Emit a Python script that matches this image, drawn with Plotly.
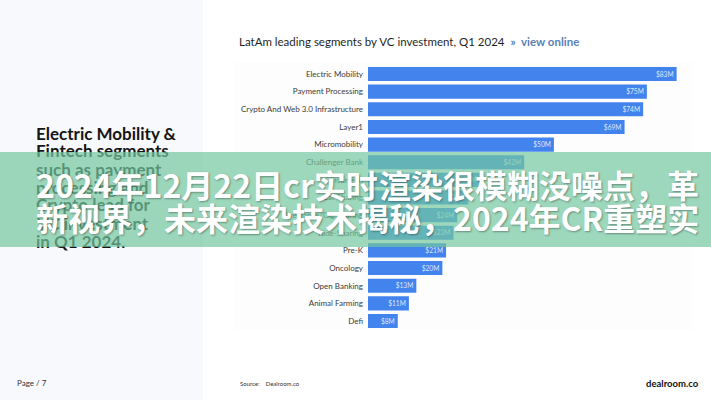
import plotly.graph_objects as go

W, H = 711, 400

segments = [
    "Electric Mobility", "Payment Processing", "Crypto And Web 3.0 Infrastructure",
    "Layer1", "Micromobility", "Challenger Bank", "Insurtech", "Car Sharing",
    "Freelance/Gig Sharing", "Ride-Sharing", "Pre-K", "Oncology", "Open Banking",
    "Animal Farming", "Defi",
]
investment_musd = [83, 75, 74, 69, 50, 42, 30, 27, 24, 23, 21, 20, 13, 11, 8]

chart_title = "LatAm leading segments by VC investment, Q1 2024"
link_text = "»  view online"
left_lines = ["Electric Mobility &", "Fintech segments", "such as payment",
              "processing and", "Crypto lead for", "VC investment", "in Q1 2024."]
# each banner line split in two halves (left part, right part)
banner_lines = [("2024年12月22日cr实时", "渲染很模糊没噪点，革"),
                ("新视界，未来渲染技", "术揭秘，2024年CR重塑实")]

def px(x):
    return x / W

def py(y):
    return 1 - y / H

fig = go.Figure()
fig.add_trace(go.Bar(
    x=investment_musd, y=segments, orientation="h",
    marker=dict(color="#4283ee", line=dict(width=0)),
    texttemplate="$%{x}M", textposition="inside", insidetextanchor="end",
    textfont=dict(family="Lato", size=9, color="#dfe8fb"),
    hoverinfo="skip", cliponaxis=False,
))

shapes = [
    dict(type="rect", xref="paper", yref="paper", x0=0, x1=px(203), y0=0, y1=1,
         fillcolor="#f8f9fc", line=dict(width=0), layer="below"),
    dict(type="rect", xref="paper", yref="paper", x0=px(235), x1=px(692), y0=py(330), y1=py(62),
         fillcolor="#fdfdfe", line=dict(width=0), layer="below"),
]

ann = []
ann.append(dict(x=px(237), y=py(41), xref="paper", yref="paper", xanchor="left", yanchor="middle",
                text=chart_title + "  <b><span style='color:#5a80b8'>" + link_text + "</span></b>",
                showarrow=False, font=dict(family="Lato", size=11.5, color="#1f1f1f")))
for i, line in enumerate(left_lines):
    ann.append(dict(x=px(34), y=py(133 + i * 18), xref="paper", yref="paper", xanchor="left",
                    yanchor="middle", text="<b>" + line + "</b>", showarrow=False,
                    font=dict(family="Lato", size=17, color="#151515")))
ann.append(dict(x=px(15), y=py(383), xref="paper", yref="paper", xanchor="left", yanchor="middle",
                text="Page / 7", showarrow=False, font=dict(family="Lato", size=8, color="#333")))
ann.append(dict(x=px(238), y=py(383), xref="paper", yref="paper", xanchor="left", yanchor="middle",
                text="Source:    Dealroom.co", showarrow=False,
                font=dict(family="Lato", size=6, color="#333")))
ann.append(dict(x=px(701), y=py(383), xref="paper", yref="paper", xanchor="right", yanchor="middle",
                text="<b>dealroom.co</b>", showarrow=False,
                font=dict(family="Lato", size=9.5, color="#111")))
# banner
ann.append(dict(x=0, y=py(152), xref="paper", yref="paper", xanchor="left", yanchor="top",
                text=" ", showarrow=False, width=W, height=95, borderpad=0, borderwidth=0,
                bgcolor="rgba(116,199,159,0.70)", font=dict(size=10)))
bfont = dict(family="Noto Sans CJK SC", size=32, color="#ffffff",
             shadow="1px 1px 2px rgba(0,0,0,0.35)")
for i, (part_a, part_b) in enumerate(banner_lines):
    yy = py(184 + i * 33)
    ann.append(dict(x=px(34), y=yy, xref="paper", yref="paper", xanchor="left", align="left",
                    yanchor="middle", text="<b>" + part_a + "</b>", showarrow=False, font=bfont))
    ann.append(dict(x=px(701), y=yy, xref="paper", yref="paper", xanchor="right", align="right",
                    yanchor="middle", text="<b>" + part_b + "</b>", showarrow=False, font=bfont))

fig.update_layout(
    width=W, height=H, margin=dict(l=0, r=0, t=0, b=0),
    paper_bgcolor="#ffffff", plot_bgcolor="rgba(0,0,0,0)",
    showlegend=False, bargap=0.2,
    xaxis=dict(domain=[px(368), px(690)], range=[0, 86.6], visible=False, fixedrange=True),
    yaxis=dict(domain=[py(329.8), py(65.2)], categoryorder="array", categoryarray=segments,
               autorange="reversed", showgrid=False, zeroline=False, showline=False,
               ticks="", ticklabelstandoff=4,
               tickfont=dict(family="Lato", size=8, color="#3a3a3a"), fixedrange=True),
    shapes=shapes, annotations=ann,
)

fig.write_html("out.html", config={"displayModeBar": False},
               post_script="document.body.style.margin='0';document.body.style.overflow='hidden';")
